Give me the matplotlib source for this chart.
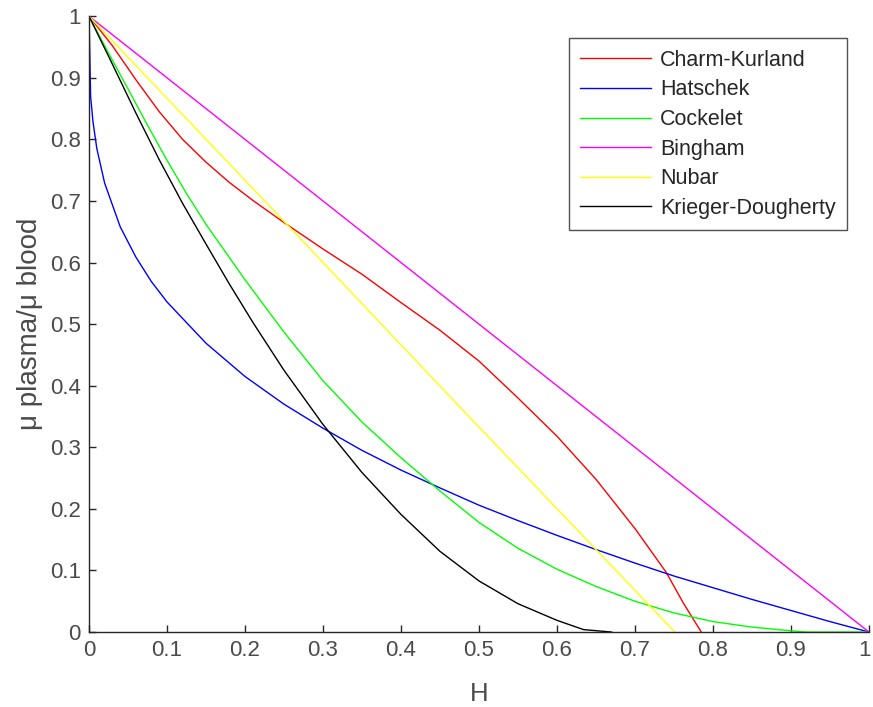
# Viscosity ratio vs haematocrit, six models

import matplotlib.pyplot as plt
import matplotlib.transforms as mtransforms
import numpy as np

plt.rcParams['font.family'] = ['Liberation Sans', 'DejaVu Sans']

# DATA
h_ck = [0, 0.03, 0.06, 0.09, 0.12, 0.15, 0.18, 0.21, 0.25, 0.3, 0.35, 0.4, 0.45, 0.5,
        0.55, 0.6, 0.65, 0.7, 0.74, 0.762, 0.785]
y_ck = [1, 0.952, 0.897, 0.845, 0.800, 0.763, 0.730, 0.701, 0.665, 0.622, 0.581, 0.535, 0.490, 0.440,
        0.380, 0.318, 0.248, 0.168, 0.097, 0.047, 0.0]

h_ha = [0, 0.002, 0.005, 0.01, 0.02, 0.04, 0.06, 0.08, 0.1, 0.15, 0.2, 0.25, 0.3, 0.35, 0.4, 0.45, 0.5,
        0.55, 0.6, 0.65, 0.7, 0.75, 0.8, 0.85, 0.9, 0.95, 1.0]
y_ha = [1, 0.870, 0.829, 0.785, 0.729, 0.658, 0.609, 0.569, 0.536, 0.469, 0.415, 0.370, 0.331, 0.295, 0.263,
        0.234, 0.206, 0.181, 0.157, 0.134, 0.112, 0.091, 0.072, 0.053, 0.035, 0.017, 0.0]

h_co = [0, 0.025, 0.05, 0.075, 0.1, 0.125, 0.15, 0.175, 0.2, 0.25, 0.3, 0.35, 0.4, 0.45, 0.5,
        0.55, 0.6, 0.65, 0.7, 0.75, 0.8, 0.85, 0.9, 0.92, 1.0]
y_co = [1, 0.940, 0.882, 0.823, 0.766, 0.712, 0.662, 0.617, 0.572, 0.487, 0.408, 0.341, 0.283, 0.229, 0.178,
        0.136, 0.102, 0.074, 0.050, 0.031, 0.017, 0.008, 0.002, 0.0, 0.0]

h_bi = [0, 1.0]
y_bi = [1, 0.0]

h_nu = [0, 0.25, 0.463, 0.751]
y_nu = [1, 0.667, 0.382, 0.0]

h_kd = [0, 0.03, 0.06, 0.09, 0.12, 0.15, 0.18, 0.21, 0.25, 0.3, 0.35, 0.4, 0.45, 0.5,
        0.55, 0.6, 0.634, 0.67]
y_kd = [1, 0.922, 0.843, 0.767, 0.696, 0.630, 0.565, 0.503, 0.425, 0.337, 0.259, 0.191, 0.131, 0.083,
        0.046, 0.019, 0.004, 0.0]

series = [("Charm-Kurland", h_ck, y_ck, (1, 0, 0)),
          ("Hatschek", h_ha, y_ha, (0, 0, 1)),
          ("Cockelet", h_co, y_co, (0, 1, 0)),
          ("Bingham", h_bi, y_bi, (1, 0, 1)),
          ("Nubar", h_nu, y_nu, (1, 1, 0)),
          ("Krieger-Dougherty", h_kd, y_kd, (0, 0, 0))]

ticks = np.round(np.arange(0, 1.01, 0.1), 1)
tick_labels = ["0", "0.1", "0.2", "0.3", "0.4", "0.5", "0.6", "0.7", "0.8", "0.9", "1"]

fig = plt.figure(figsize=(8.73, 7.07), dpi=100)
ax = fig.add_axes([0.102, 0.106, 0.8934, 0.871])

for name, h, y, c in series:
	ax.plot(h, y, '-', color=c, linewidth=1.0, label=name)

ax.set_xlim(0, 1)
ax.set_ylim(0, 1)
ax.set_xticks(ticks)
ax.set_yticks(ticks)
ax.set_xticklabels(tick_labels)
ax.set_yticklabels(tick_labels)

gray = '#262626'
txt = '#4a4a4a'
for s in ['top', 'right']:
	ax.spines[s].set_visible(False)
for s in ['left', 'bottom']:
	ax.spines[s].set_color(gray)
	ax.spines[s].set_linewidth(1.0)
ax.tick_params(direction='in', length=5, width=1, colors=gray, labelsize=16, pad=6, labelcolor=txt)

# keep the last x label inside the figure
last = ax.get_xticklabels()[-1]
last.set_transform(last.get_transform() + mtransforms.ScaledTranslation(-3/72, 0, fig.dpi_scale_trans))

# Labels and Legend
ax.set_xlabel("H", fontsize=18.5, color=txt, labelpad=15)
ax.set_ylabel("\u03bc plasma/\u03bc blood", fontsize=20, color=txt, labelpad=5)

leg = ax.legend(loc='upper right', bbox_to_anchor=(0.972, 0.964), fontsize=15.5, frameon=True,
                fancybox=False, edgecolor=gray, handlelength=3.3, borderpad=0.53,
                labelspacing=0.40, handletextpad=0.42, borderaxespad=0)
leg.get_frame().set_linewidth(1.0)
for t in leg.get_texts():
	t.set_color(gray)

# Save
plt.savefig("out.png", dpi=100)
